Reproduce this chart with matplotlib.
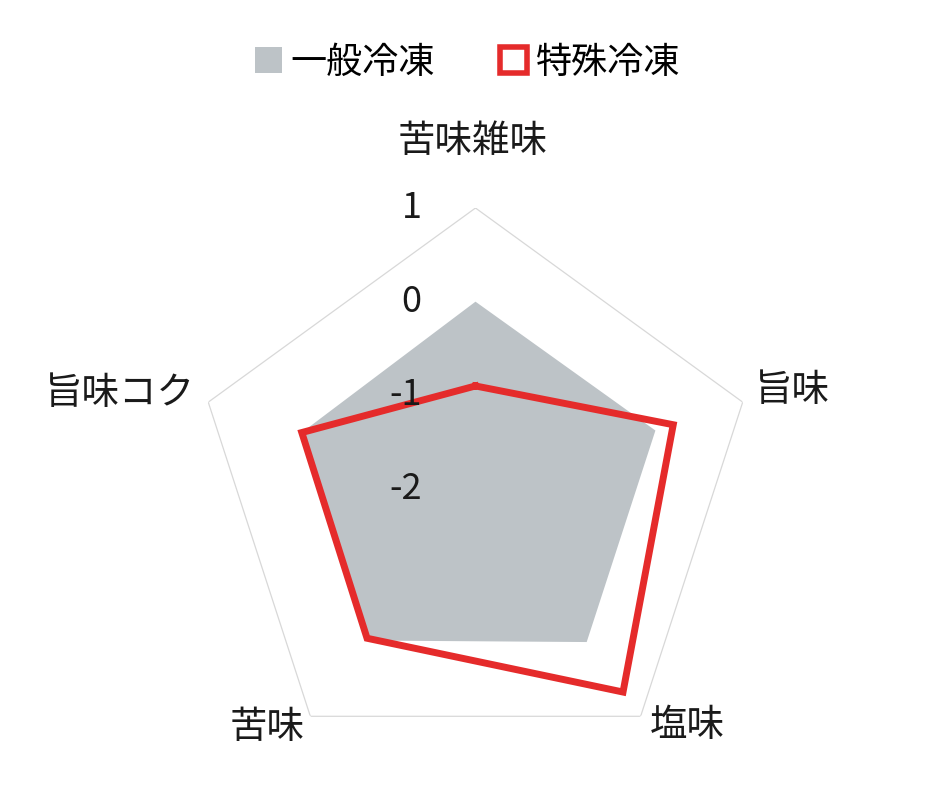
import numpy as np
import matplotlib
matplotlib.use('Agg')
import matplotlib.pyplot as plt
from matplotlib.patches import Patch
from matplotlib.transforms import offset_copy

plt.rcParams['font.family'] = ['Noto Sans CJK JP', 'DejaVu Sans']

# axes, clockwise from the top
categories = ['苦味雑味', '旨味', '塩味', '苦味', '旨味コク']
general = [0.0, 0.02, 0.02, 0.0, -0.05]     # 一般冷凍
special = [-0.9, 0.22, 0.68, -0.03, -0.05]  # 特殊冷凍
series_names = ['一般冷凍', '特殊冷凍']
r_ticks = [1, 0, -1, -2]
r_min, r_max = -2, 1

gray = '#bdc3c7'
red = '#e52b2b'

n = len(categories)
angles = np.linspace(0, 2 * np.pi, n, endpoint=False)
closed = np.append(angles, angles[0])

fig = plt.figure(figsize=(9.47, 8.02), dpi=100)
ax = fig.add_axes([0.2054, 0.0399, 0.5934, 0.7008], projection='polar')
ax.set_theta_offset(np.pi / 2)
ax.set_theta_direction(-1)
ax.set_ylim(r_min, r_max)
ax.grid(False)
ax.spines['polar'].set_visible(False)
ax.set_xticks([])
ax.set_yticks([])

# outer frame
ax.plot(closed, [r_max] * (n + 1), color='#d8d8d8', lw=0.9, zorder=1)

# series
ax.fill(closed, general + general[:1], color=gray, lw=0, zorder=2)
ax.plot(closed, special + special[:1], color=red, lw=5, solid_joinstyle='miter', zorder=3)

# radial tick labels to the left of the top axis
tick_tr = offset_copy(ax.transData, fig=fig, x=-54, y=0, units='dots')
for t in r_ticks:
    ax.text(0, t, str(t), transform=tick_tr, ha='right', va='center',
            fontsize=26, color='#1a1a1a', zorder=4)

# category labels
label_pos = [(-3, 67, 'center', 'center'),
             (12, 12, 'left', 'center'),
             (9, -9, 'left', 'center'),
             (-6, -11, 'right', 'center'),
             (-13, 9, 'right', 'center')]
for ang, name, (dx, dy, ha, va) in zip(angles, categories, label_pos):
    ax.annotate(name, xy=(ang, r_max), xytext=(dx, dy), textcoords='offset pixels',
                ha=ha, va=va, fontsize=27, color='#1a1a1a', annotation_clip=False)

handles = [Patch(facecolor=gray, edgecolor='none'),
           Patch(facecolor='white', edgecolor=red, linewidth=4)]
fig.legend(handles, series_names, loc='center', bbox_to_anchor=(0.494, 0.922),
           ncol=2, frameon=False, fontsize=26, handlelength=0.75, handleheight=0.75,
           handletextpad=0.25, columnspacing=1.8)

fig.savefig('out.png', dpi=100)
